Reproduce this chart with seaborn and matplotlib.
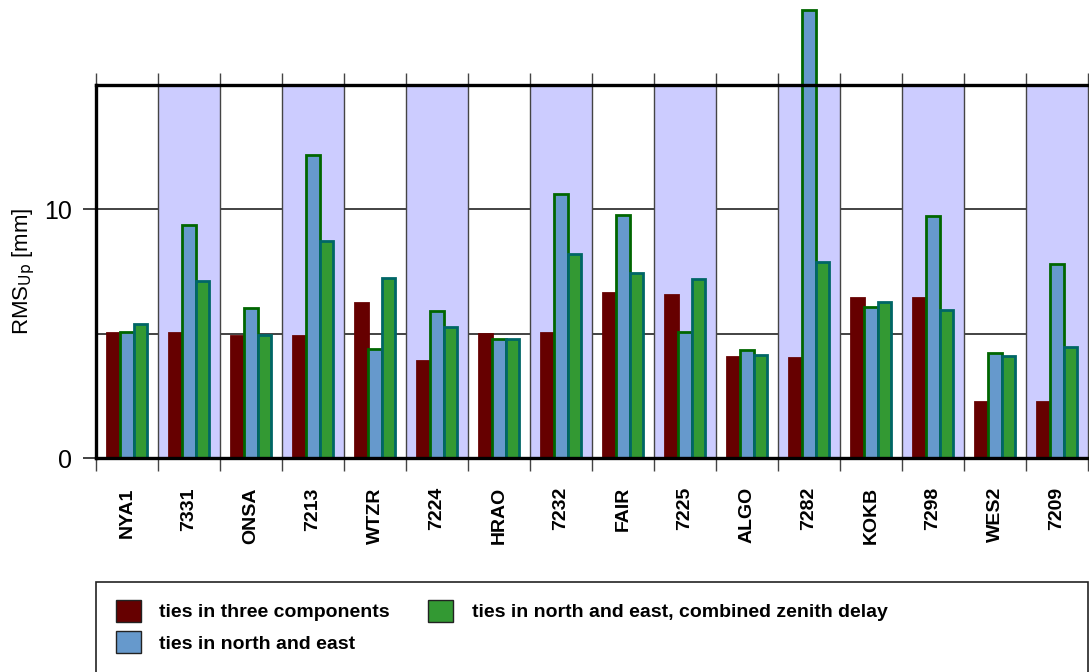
import numpy as np
import pandas as pd
import matplotlib
matplotlib.use("Agg")
import matplotlib.pyplot as plt
from matplotlib.patches import Patch, Rectangle
import seaborn as sns

# ============================================
# DATA
# ============================================

stations = ["NYA1", "7331", "ONSA", "7213", "WTZR", "7224", "HRAO", "7232",
            "FAIR", "7225", "ALGO", "7282", "KOKB", "7298", "WES2", "7209"]

series = ["ties in three components",
          "ties in north and east",
          "ties in north and east, combined zenith delay"]

three_comp = [5.04, 5.04, 4.92, 4.92, 6.25, 3.91, 5.00, 5.04,
              6.65, 6.57, 4.08, 4.03, 6.44, 6.44, 2.25, 2.25]
north_east = [5.08, 9.35, 6.02, 12.2, 4.40, 5.93, 4.80, 10.6,
              9.76, 5.08, 4.33, 18.0, 6.08, 9.72, 4.23, 7.80]
ne_zenith = [5.37, 7.11, 4.95, 8.71, 7.22, 5.28, 4.80, 8.19,
             7.42, 7.18, 4.13, 7.88, 6.28, 5.96, 4.11, 4.45]

face_colors = ["#660000", "#6699cc", "#339933"]
edge_colors = ["#660000", "#006600", "#006666"]

# ============================================
# FIGURE
# ============================================

sns.set_style("white")
plt.rcParams["font.family"] = ["Liberation Sans", "DejaVu Sans"]
plt.rcParams["text.color"] = "black"
plt.rcParams["axes.labelcolor"] = "black"
plt.rcParams["xtick.color"] = "black"
plt.rcParams["ytick.color"] = "black"

df = pd.DataFrame({
    "station": stations * 3,
    "series": np.repeat(series, len(stations)),
    "rms": three_comp + north_east + ne_zenith,
})

fig = plt.figure(figsize=(10.89, 6.72), dpi=100)
ax = fig.add_axes([96 / 1089, 1 - 458 / 672, 992 / 1089, 373 / 672])

sns.barplot(data=df, x="station", y="rms", hue="series", order=stations,
            hue_order=series, palette=face_colors, saturation=1, width=0.66,
            gap=0, errorbar=None, legend=False, ax=ax, zorder=3)

for cont, ec in zip(ax.containers, edge_colors):
    for bar in cont:
        bar.set_edgecolor(ec)
        bar.set_linewidth(2)
        bar.set_clip_on(False)

# alternating background bands
for i in range(len(stations)):
    if i % 2 == 1:
        ax.axvspan(i - 0.5, i + 0.5, color="#ccccff", lw=0, zorder=1)
    ax.axvline(i - 0.5, color="#444444", lw=1, zorder=1.5)

for yv in (5, 10):
    ax.axhline(yv, color="#222222", lw=1.2, zorder=0.5)

ax.set_xlim(-0.5, len(stations) - 0.5)
ax.set_ylim(0, 15)

ax.set_xticks(np.arange(-0.5, len(stations)), labels=[])
ax.set_xticks(range(len(stations)), labels=stations, minor=True)
ax.tick_params(axis="x", which="major", direction="out", length=9, width=1,
               color="#444444", top=True, bottom=True)
ax.tick_params(axis="x", which="minor", length=0, pad=21, labelrotation=90,
               labelsize=14)
for lab in ax.get_xticklabels(minor=True):
    lab.set_fontweight("bold")

ax.set_yticks([0, 10])
ax.tick_params(axis="y", direction="out", length=9.5, width=1.2,
               color="#222222", left=True, labelsize=18, pad=8)

for side in ("top", "bottom", "left"):
    ax.spines[side].set_linewidth(2.4)
    ax.spines[side].set_color("black")
    ax.spines[side].set_zorder(4)
ax.spines["right"].set_linewidth(1)
ax.spines["right"].set_color("#444444")

ax.set_xlabel("")
ax.set_ylabel("RMS$_{\\mathrm{Up}}$ [mm]", fontsize=16, labelpad=5)

# legend box
fig.patches.append(Rectangle((96 / 1089, -0.05), 992 / 1089, 0.05 + (672 - 582) / 672,
                             transform=fig.transFigure, fill=False,
                             ec="#222222", lw=1.2))

handles = [Patch(facecolor=c, edgecolor="#222222", lw=1) for c in face_colors]
fig.legend(handles, series, loc="upper left",
           bbox_to_anchor=(106 / 1089, 1 - 590 / 672), ncol=2, frameon=False,
           prop={"size": 14, "weight": "bold"}, borderpad=0,
           handlelength=1.3, handleheight=1.35, handletextpad=0.95,
           labelspacing=0.5, columnspacing=1.95)

fig.savefig("out.png", dpi=100)
